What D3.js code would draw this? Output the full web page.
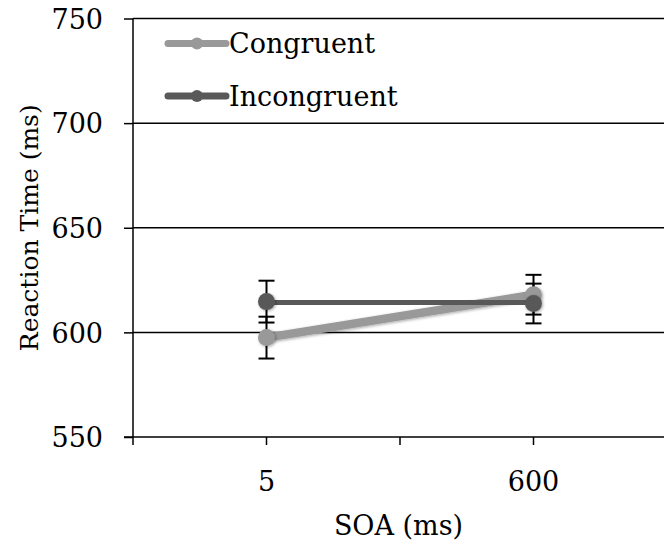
<!DOCTYPE html>
<html>
<head>
<meta charset="utf-8">
<script src="https://cdn.jsdelivr.net/npm/d3@7"></script>
<style>
  html, body { margin: 0; padding: 0; background: #fff; }
  svg { display: block; }
  text { font-family: "DejaVu Serif", "Liberation Serif", serif; fill: #000; }
</style>
</head>
<body>
<svg id="chart" width="664" height="548"></svg>
<script>
// ---- data ----
const categories = ["5", "600"];
const seriesNames = ["Congruent", "Incongruent"];
const congruentMeans = [597.5, 618];
const congruentErrors = [10, 9.5];
const incongruentMeans = [614.7, 613.8];
const incongruentErrors = [10, 9.5];
const yTicks = [550, 600, 650, 700, 750];
const xTitle = "SOA (ms)";
const yTitle = "Reaction Time (ms)";

const series = [
  { name: seriesNames[0], means: congruentMeans, errs: congruentErrors, color: "#999999" },
  { name: seriesNames[1], means: incongruentMeans, errs: incongruentErrors, color: "#595959" }
];

const svg = d3.select("#chart");
const plotL = 133, plotR = 667, plotT = 18.5, plotB = 437;

const x = d3.scaleBand().domain(categories).range([plotL, plotR]).padding(0);
const xc = d => x(d) + x.bandwidth() / 2;
const y = d3.scaleLinear().domain([550, 750]).range([plotB, plotT]);

// shadow filter
const defs = svg.append("defs");
const f = defs.append("filter").attr("id", "shadow").attr("x", "-50%").attr("y", "-50%").attr("width", "200%").attr("height", "200%");
f.append("feDropShadow").attr("dx", 1).attr("dy", 1).attr("stdDeviation", 1.6).attr("flood-color", "#000").attr("flood-opacity", 0.35);

// gridlines
svg.append("g").selectAll("line").data(yTicks.filter(t => t !== 550)).join("line")
  .attr("x1", plotL).attr("x2", 664)
  .attr("y1", d => y(d)).attr("y2", d => y(d))
  .attr("stroke", "#000").attr("stroke-width", 1.5);

// y axis
const yAxis = d3.axisLeft(y).tickValues(yTicks).tickSize(9).tickPadding(21).tickFormat(d3.format("d"));
const gy = svg.append("g").attr("transform", `translate(${plotL},0)`).call(yAxis);
gy.select(".domain").attr("stroke", "#000").attr("stroke-width", 1.5).attr("d", `M0,${plotT}V${plotB}`);
gy.selectAll(".tick line").attr("stroke", "#000").attr("stroke-width", 1.5);
gy.selectAll(".tick text").attr("font-size", 27).attr("font-family", "DejaVu Serif").attr("dy", "0.36em");

// x axis
const xAxis = d3.axisBottom(x).tickSize(0).tickPadding(35);
const gx = svg.append("g").attr("transform", `translate(0,${plotB})`).call(xAxis);
gx.select(".domain").attr("stroke", "#000").attr("stroke-width", 1.5).attr("d", `M${plotL - 9},0H664`);
gx.selectAll(".tick text").attr("font-size", 27).attr("font-family", "DejaVu Serif");
// tick marks at band edges and centers
const xTickPos = [];
categories.forEach(c => { xTickPos.push(x(c)); xTickPos.push(xc(c)); });
gx.append("g").selectAll("line").data(xTickPos).join("line")
  .attr("x1", d => d).attr("x2", d => d).attr("y1", 0).attr("y2", 8)
  .attr("stroke", "#000").attr("stroke-width", 1.5);

// axis titles
svg.append("text").attr("x", (plotL + 664) / 2).attr("y", 535).attr("text-anchor", "middle")
  .attr("font-size", 27).text(xTitle);
svg.append("text").attr("transform", `translate(38,${(plotT + plotB) / 2}) rotate(-90)`)
  .attr("text-anchor", "middle").attr("font-size", 25).text(yTitle);

// error bars
series.forEach(s => {
  const g = svg.append("g");
  categories.forEach((c, i) => {
    const cx = xc(c), lo = y(s.means[i] - s.errs[i]), hi = y(s.means[i] + s.errs[i]);
    g.append("line").attr("x1", cx).attr("x2", cx).attr("y1", lo).attr("y2", hi).attr("stroke", "#000").attr("stroke-width", 2);
    [lo, hi].forEach(yy => g.append("line").attr("x1", cx - 8).attr("x2", cx + 8).attr("y1", yy).attr("y2", yy).attr("stroke", "#000").attr("stroke-width", 2));
  });
});

// lines & markers
const line = d3.line().x((d, i) => xc(categories[i])).y(d => y(d));
series.forEach(s => {
  const g = svg.append("g");
  g.append("path").datum(s.means).attr("d", line).attr("fill", "none")
    .attr("stroke", s.color).attr("stroke-width", 8.5).attr("filter", "url(#shadow)");
  g.selectAll("circle").data(s.means).join("circle")
    .attr("cx", (d, i) => xc(categories[i])).attr("cy", d => y(d)).attr("r", 8.5)
    .attr("fill", s.color).attr("filter", "url(#shadow)");
});

// legend
const legend = svg.append("g");
series.forEach((s, i) => {
  const ly = 43.5 + i * 52.5;
  legend.append("line").attr("x1", 168).attr("x2", 226).attr("y1", ly).attr("y2", ly)
    .attr("stroke", s.color).attr("stroke-width", 7).attr("stroke-linecap", "round");
  legend.append("circle").attr("cx", 197).attr("cy", ly).attr("r", 6).attr("fill", s.color);
  legend.append("text").attr("x", 229).attr("y", ly).attr("dy", "0.36em").attr("font-size", 27).text(s.name);
});
</script>
</body>
</html>
